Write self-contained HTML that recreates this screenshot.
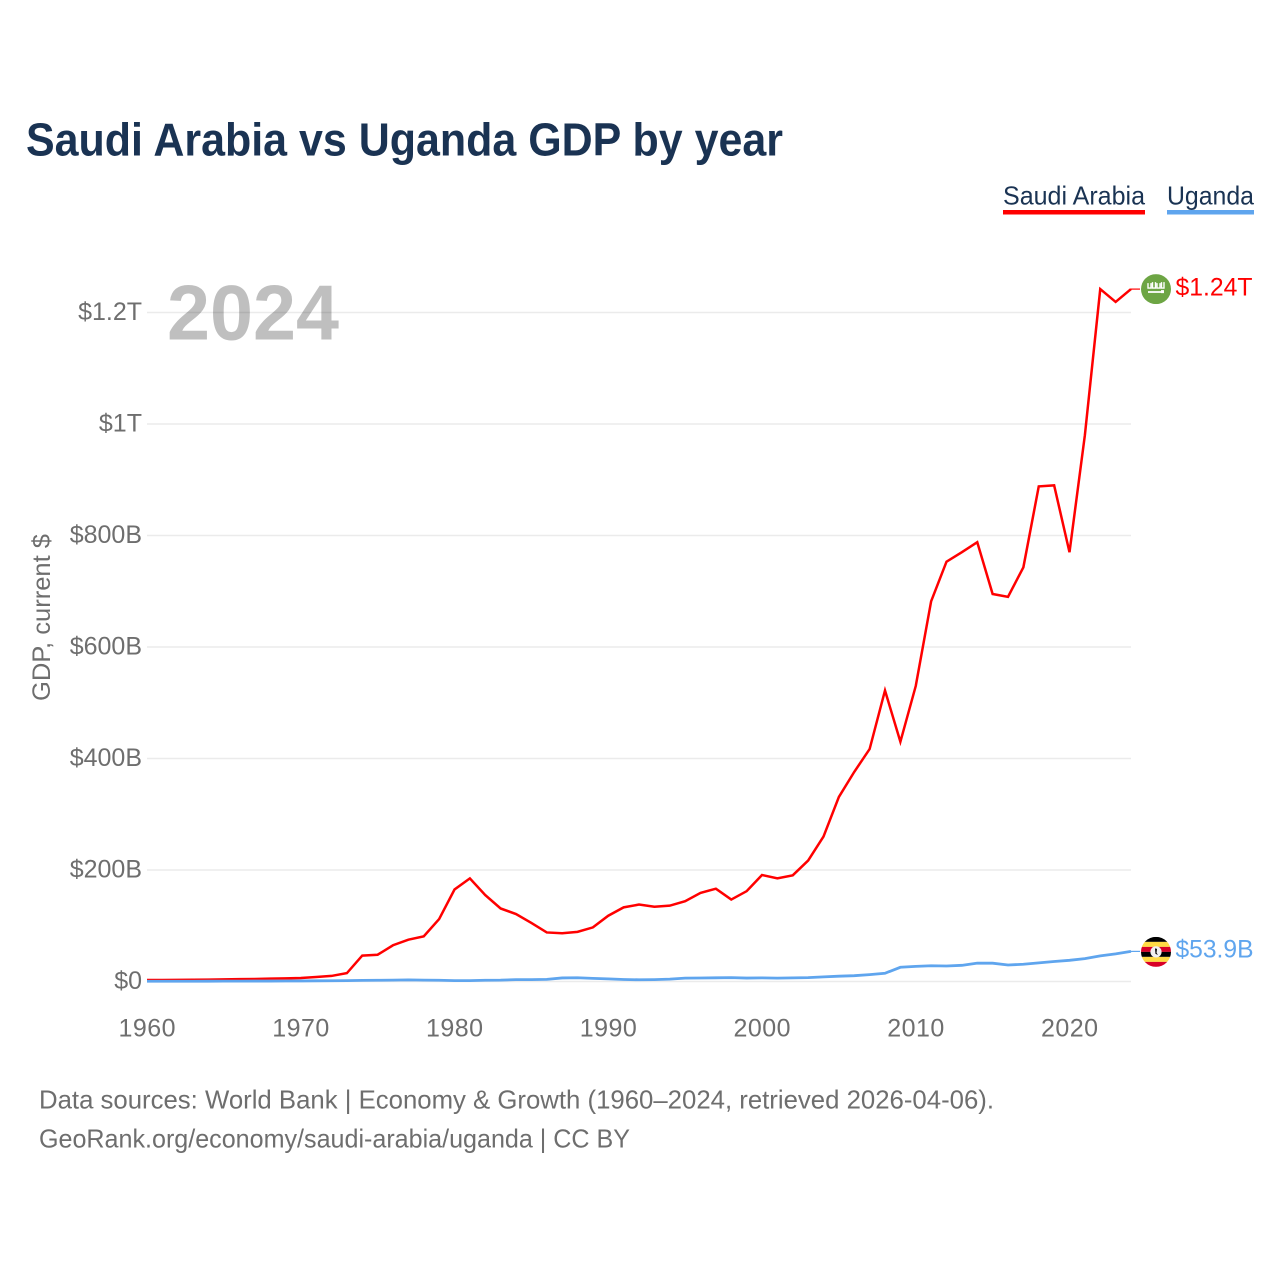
<!DOCTYPE html>
<html lang="en">
<head>
<meta charset="utf-8">
<title>Saudi Arabia vs Uganda GDP by year</title>
<style>
html,body{margin:0;padding:0;background:#fff;}
svg{display:block;font-family:"Liberation Sans",sans-serif;}
</style>
</head>
<body>
<svg id="chart" xmlns="http://www.w3.org/2000/svg" width="1280" height="1280" viewBox="0 0 1280 1280">
  <defs>
    <clipPath id="flag-clip-sa"><circle cx="0" cy="0" r="15"/></clipPath>
    <clipPath id="flag-clip-ug"><circle cx="0" cy="0" r="15"/></clipPath>
  </defs>
  <rect x="0" y="0" width="1280" height="1280" fill="#fff"/>
  <text x="26" y="155.5" font-size="46" font-weight="700" fill="#1a3353" textLength="757" lengthAdjust="spacingAndGlyphs">Saudi Arabia vs Uganda GDP by year</text>
  <g>
    <text x="1003" y="204.5" font-size="26" fill="#1a3353" textLength="142" lengthAdjust="spacingAndGlyphs">Saudi Arabia</text>
    <rect x="1003" y="210" width="142" height="4.5" fill="#ff0000"/>
  </g>
  <g>
    <text x="1167" y="204.5" font-size="26" fill="#1a3353" textLength="87" lengthAdjust="spacingAndGlyphs">Uganda</text>
    <rect x="1167" y="210" width="87" height="4.5" fill="#5fa5ee"/>
  </g>
  <text x="167" y="339.5" font-size="78" font-weight="700" fill="#bfbfbf" textLength="172" lengthAdjust="spacingAndGlyphs">2024</text>
  <g id="grid"></g>
  <g id="y-ticks"></g>
  <g id="x-ticks"></g>
  <text transform="translate(50,701) rotate(-90)" x="0" y="0" font-size="25" fill="#6e6e6e" textLength="167" lengthAdjust="spacingAndGlyphs">GDP, current $</text>
  <g id="series"></g>
  <g id="flag-sa">
    <g clip-path="url(#flag-clip-sa)">
      <rect x="-15" y="-15" width="30" height="30" fill="#6da544"/>
      <path d="M-8 -6 v5 h3 v-5 M-3.5 -7 v6 h3 v-6 M1 -6 v5 h3 v-5 M5.5 -7 v6 h2.5 v-6" fill="none" stroke="#fff" stroke-width="1.4"/>
      <path d="M-8 2 h13 v1.8 h-13 z M5 1 h3 v3 h-3 z" fill="#fff"/>
    </g>
  </g>
  <g id="flag-ug">
    <g clip-path="url(#flag-clip-ug)">
      <rect x="-15" y="-15" width="30" height="5" fill="#000"/>
      <rect x="-15" y="-10" width="30" height="5" fill="#ffda44"/>
      <rect x="-15" y="-5" width="30" height="5" fill="#d80027"/>
      <rect x="-15" y="0" width="30" height="5" fill="#000"/>
      <rect x="-15" y="5" width="30" height="5" fill="#ffda44"/>
      <rect x="-15" y="10" width="30" height="5" fill="#d80027"/>
      <circle cx="0" cy="0" r="5.6" fill="#f0f0f0"/>
      <path d="M-1 -3.5 L1 -3 L0.5 1 L2 3 L-0.5 2 Z" fill="#000"/>
    </g>
  </g>
  <text id="value-sa" x="1175.5" font-size="25" fill="#ff0000"></text>
  <text id="value-ug" x="1175.5" font-size="25" fill="#5fa5ee"></text>
  <text x="39" y="1108.5" font-size="26" fill="#6e6e6e" textLength="955" lengthAdjust="spacingAndGlyphs">Data sources: World Bank | Economy &amp; Growth (1960–2024, retrieved 2026-04-06).</text>
  <a><text x="39" y="1147.5" font-size="26" fill="#6e6e6e" textLength="591" lengthAdjust="spacingAndGlyphs">GeoRank.org/economy/saudi-arabia/uganda | CC BY</text></a>
</svg>
<script>
const years = [1960,1961,1962,1963,1964,1965,1966,1967,1968,1969,1970,1971,1972,1973,1974,1975,1976,1977,1978,1979,1980,1981,1982,1983,1984,1985,1986,1987,1988,1989,1990,1991,1992,1993,1994,1995,1996,1997,1998,1999,2000,2001,2002,2003,2004,2005,2006,2007,2008,2009,2010,2011,2012,2013,2014,2015,2016,2017,2018,2019,2020,2021,2022,2023,2024];
const saudiArabia = [2.6,2.8,3,3.1,3.4,3.8,4.2,4.6,5.1,5.7,6.3,8,10,15,46.5,48,65,75,81,112,165,185,155,131,121,105,88,86.5,89,97,118,133,138,134,136,144,159,166.5,147,162,191,185,190.5,217,260,331,376,417,522,430,530,682,753,770,788,695,690,743,888,890,770,980,1242,1219,1242];
const uganda = [0.4,0.5,0.5,0.5,0.6,0.7,0.7,0.8,0.8,0.9,1,1.2,1.4,1.6,2,2.2,2.4,2.9,2.5,2.2,1.5,1.6,2.3,2.4,3.4,3.4,3.8,6.4,6.7,5.6,4.7,3.6,3.1,3.4,4.2,6.1,6.3,6.6,6.9,6.2,6.5,6.1,6.5,6.9,8.3,9.5,10.4,12.4,14.8,25.5,27.2,28.2,27.8,29,33,32.8,29.6,31,33.4,35.8,38,41,46,49.6,54];
const yTickValues = [0,200,400,600,800,1000,1200];
const yTickLabels = ["$0","$200B","$400B","$600B","$800B","$1T","$1.2T"];
const xTickValues = [1960,1970,1980,1990,2000,2010,2020];
const xTickLabels = ["1960","1970","1980","1990","2000","2010","2020"];
const endLabels = ["$1.24T","$53.9B"];

const NS = "http://www.w3.org/2000/svg";
const xScale = function (year) { return 147 + (year - 1960) * (984 / 64); };
const yScale = function (value) { return 981.5 - value * (669 / 1200); };

const gridGroup = document.getElementById("grid");
const yGroup = document.getElementById("y-ticks");
const xGroup = document.getElementById("x-ticks");
const seriesGroup = document.getElementById("series");

yTickValues.forEach(function (value, i) {
  const line = document.createElementNS(NS, "line");
  
  
  line.setAttribute("x1", xScale(1960));
  line.setAttribute("x2", xScale(2024));
  line.setAttribute("y1", yScale(value));
  line.setAttribute("y2", yScale(value));
  line.setAttribute("stroke", "rgba(0,0,0,0.08)");
  line.setAttribute("stroke-width", "1.5");
  gridGroup.appendChild(line);

  const label = document.createElementNS(NS, "text");
  
  
  label.setAttribute("x", 142);
  label.setAttribute("y", yScale(value) + 7.5);
  label.setAttribute("text-anchor", "end");
  label.setAttribute("font-size", "25");
  label.setAttribute("fill", "#6e6e6e");
  label.textContent = yTickLabels[i];
  yGroup.appendChild(label);
});

xTickValues.forEach(function (year, i) {
  const label = document.createElementNS(NS, "text");
  
  
  label.setAttribute("x", xScale(year));
  label.setAttribute("y", 1036.5);
  label.setAttribute("text-anchor", "middle");
  label.setAttribute("font-size", "25");
  label.setAttribute("fill", "#6e6e6e");
  label.setAttribute("textLength", "57");
  label.setAttribute("lengthAdjust", "spacing");
  label.textContent = xTickLabels[i];
  xGroup.appendChild(label);
});

function pathFor(values) {
  return values.map(function (v, i) {
    return (i ? "L" : "M") + xScale(years[i]).toFixed(2) + " " + yScale(v).toFixed(2);
  }).join(" ");
}

const saudiLine = document.createElementNS(NS, "path");


saudiLine.setAttribute("d", pathFor(saudiArabia));
saudiLine.setAttribute("fill", "none");
saudiLine.setAttribute("stroke", "#ff0000");
saudiLine.setAttribute("stroke-width", "2.5");
seriesGroup.appendChild(saudiLine);

const ugandaLine = document.createElementNS(NS, "path");


ugandaLine.setAttribute("d", pathFor(uganda));
ugandaLine.setAttribute("fill", "none");
ugandaLine.setAttribute("stroke", "#5fa5ee");
ugandaLine.setAttribute("stroke-width", "2.8");
seriesGroup.appendChild(ugandaLine);

const lastYear = years[years.length - 1];
const saEndY = yScale(saudiArabia[saudiArabia.length - 1]);
const ugEndY = yScale(uganda[uganda.length - 1]);

const saConnector = document.createElementNS(NS, "line");


saConnector.setAttribute("x1", xScale(lastYear));
saConnector.setAttribute("x2", xScale(lastYear) + 9);
saConnector.setAttribute("y1", saEndY);
saConnector.setAttribute("y2", saEndY);
saConnector.setAttribute("stroke", "#ff0000");
saConnector.setAttribute("stroke-width", "1.2");
seriesGroup.appendChild(saConnector);

const ugConnector = document.createElementNS(NS, "line");


ugConnector.setAttribute("x1", xScale(lastYear));
ugConnector.setAttribute("x2", xScale(lastYear) + 9);
ugConnector.setAttribute("y1", ugEndY);
ugConnector.setAttribute("y2", ugEndY);
ugConnector.setAttribute("stroke", "#5fa5ee");
ugConnector.setAttribute("stroke-width", "1.2");
seriesGroup.appendChild(ugConnector);

document.getElementById("flag-sa").setAttribute("transform", "translate(" + (xScale(lastYear) + 25) + "," + saEndY + ")");
document.getElementById("flag-ug").setAttribute("transform", "translate(" + (xScale(lastYear) + 25) + "," + (ugEndY + 0.5) + ")");

const saValue = document.getElementById("value-sa");
saValue.setAttribute("y", saEndY + 6.5);
saValue.setAttribute("textLength", "77");
saValue.setAttribute("lengthAdjust", "spacingAndGlyphs");
saValue.textContent = endLabels[0];

const ugValue = document.getElementById("value-ug");
ugValue.setAttribute("y", ugEndY + 6);
ugValue.setAttribute("textLength", "78");
ugValue.setAttribute("lengthAdjust", "spacingAndGlyphs");
ugValue.textContent = endLabels[1];
</script>
</body>
</html>
